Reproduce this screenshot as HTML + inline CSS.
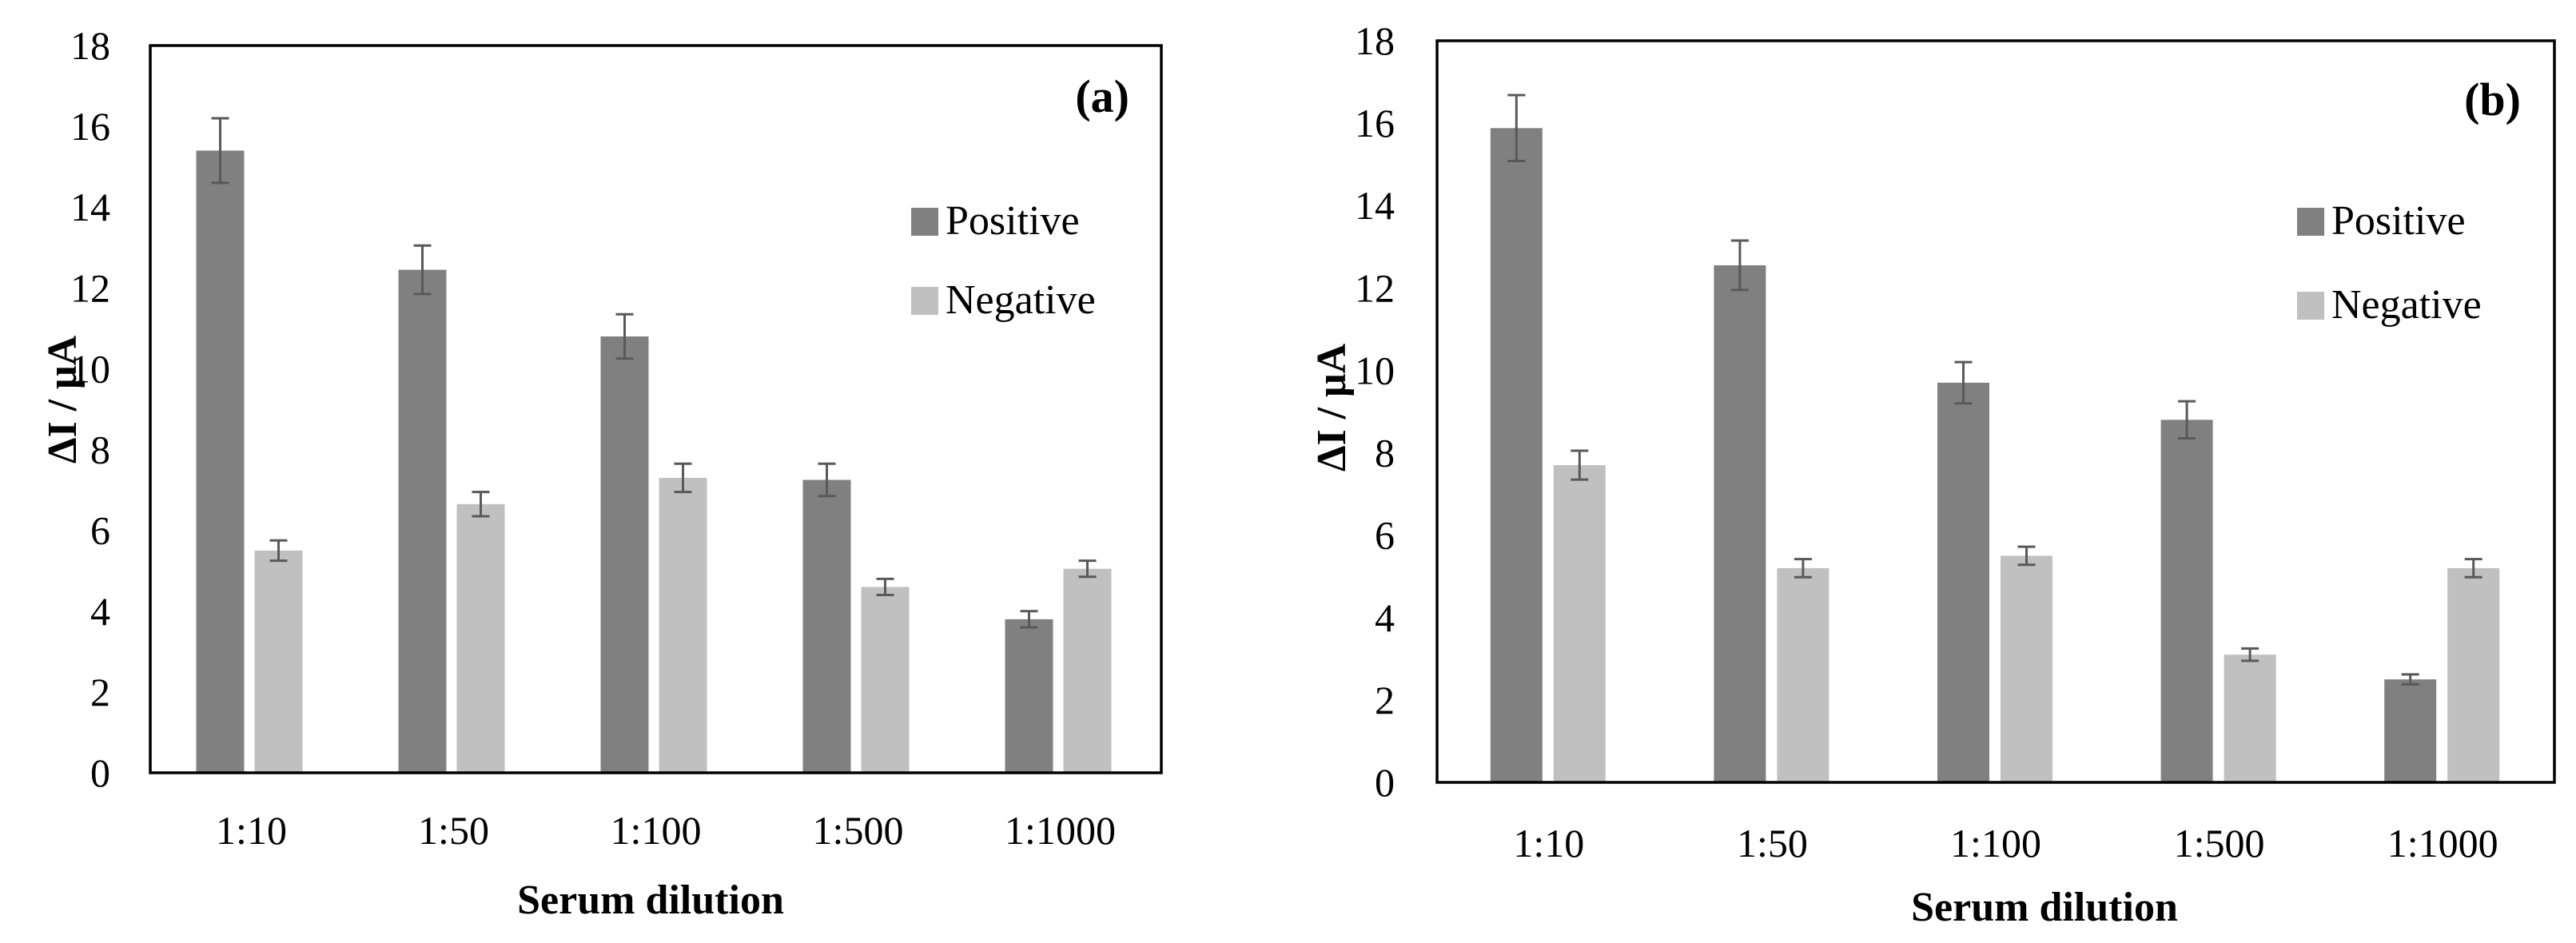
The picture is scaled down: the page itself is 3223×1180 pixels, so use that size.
<!DOCTYPE html>
<html><head><meta charset="utf-8"><style>
html,body{margin:0;padding:0;background:#fff;}
svg{display:block;font-family:"Liberation Serif",serif;}
</style></head><body>
<svg id="chart" width="3223" height="1180" viewBox="0 0 3223 1180" xmlns="http://www.w3.org/2000/svg">
<rect width="3223" height="1180" fill="#fff"/>
</svg>
<script>
const categories = ["1:10","1:50","1:100","1:500","1:1000"];
const yTicks = [0,2,4,6,8,10,12,14,16,18];
const posA = [15.4,12.45,10.8,7.25,3.8];
const posAErr = [0.8,0.6,0.55,0.4,0.2];
const negA = [5.5,6.65,7.3,4.6,5.05];
const negAErr = [0.25,0.3,0.35,0.2,0.2];
const posB = [15.88,12.55,9.7,8.8,2.5];
const posBErr = [0.8,0.6,0.5,0.45,0.12];
const negB = [7.7,5.2,5.5,3.1,5.2];
const negBErr = [0.35,0.22,0.22,0.15,0.22];

const NS="http://www.w3.org/2000/svg";
const svg=document.getElementById('chart');
function mk(tag,attrs,parent){const e=document.createElementNS(NS,tag);for(const k in attrs)e.setAttribute(k,attrs[k]);(parent||svg).appendChild(e);return e;}

function panel(cfg){
  const g=mk('g',{});
  
  
  const y=v=>cfg.bottom-(v/18)*(cfg.bottom-cfg.top);
  const gw=(cfg.right-cfg.left)/categories.length;
  const xc=i=>cfg.left+gw*(i+0.5);
  yTicks.forEach(t=>{
    const tx=mk('text',{x:cfg.tickX,y:y(t)+17,'text-anchor':'end','font-size':50,fill:'#000'},g);
    tx.textContent=t;
    
    
  });
  const series=[[cfg.pos,cfg.posErr,'#808080',cfg.posOff,'positive'],[cfg.neg,cfg.negErr,'#c0c0c0',cfg.negOff,'negative']];
  series.forEach(([vals,errs,col,off,nm])=>{
    vals.forEach((v,i)=>{
      const x=xc(i)+off;
      const r=mk('rect',{x:x,y:y(v),width:cfg.bw,height:cfg.bottom-y(v),fill:col},g);
      
      
      const cx=x+cfg.bw/2, t=y(v+errs[i]), b=y(v-errs[i]);
      const eb=mk('path',{d:`M${cx} ${t}V${b}M${cx-11} ${t}H${cx+11}M${cx-11} ${b}H${cx+11}`,stroke:'#595959','stroke-width':3,fill:'none'},g);
      
      
    });
  });
  const fr=mk('rect',{x:cfg.left,y:cfg.top,width:cfg.right-cfg.left,height:cfg.bottom-cfg.top,fill:'none',stroke:'#000','stroke-width':3.5},g);
  
  
  categories.forEach((c,i)=>{
    const tx=mk('text',{x:xc(i),y:cfg.xLabY,'text-anchor':'middle','font-size':50,fill:'#000'},g);
    tx.textContent=c;
    
    
  });
  const xt=mk('text',{x:cfg.xTitleX,y:cfg.xTitleY,'text-anchor':'middle','font-size':52,'font-weight':'bold',fill:'#000'},g);
  xt.textContent='Serum dilution';
  
  
  const yt=mk('text',{x:0,y:0,'text-anchor':'middle','font-size':52,'font-weight':'bold',fill:'#000',transform:`translate(${cfg.yTitleX},${cfg.yTitleY}) rotate(-90)`},g);
  yt.textContent='ΔI / μA';
  
  
  const pl=mk('text',{x:cfg.labX,y:cfg.labY,'text-anchor':'end','font-size':58,'font-weight':'bold',fill:'#000'},g);
  pl.textContent='('+cfg.id+')';
  
  
  [['Positive','#808080',cfg.legY1],['Negative','#c0c0c0',cfg.legY2]].forEach(([n,c,ly])=>{
    const lg=mk('g',{},g);
    
    
    mk('rect',{x:cfg.legX,y:ly,width:34,height:35,fill:c},lg);
    const lt=mk('text',{x:cfg.legX+43,y:ly+33,'font-size':52,fill:'#000'},lg);
    lt.textContent=n;
  });
}
panel({id:'a',left:188,right:1453,top:57,bottom:967,bw:60,posOff:-69,negOff:4,
  pos:posA,posErr:posAErr,neg:negA,negErr:negAErr,tickX:138,xLabY:1056,
  xTitleX:814,xTitleY:1143,yTitleX:95,yTitleY:500,labX:1413,labY:140,legX:1140,legY1:260,legY2:359});
panel({id:'b',left:1798,right:3196,top:51,bottom:979,bw:65,posOff:-73,negOff:6,
  pos:posB,posErr:posBErr,neg:negB,negErr:negBErr,tickX:1745,xLabY:1072,
  xTitleX:2558,xTitleY:1152,yTitleX:1683,yTitleY:510,labX:3154,labY:144,legX:2874,legY1:260,legY2:365});
</script>
</body></html>
